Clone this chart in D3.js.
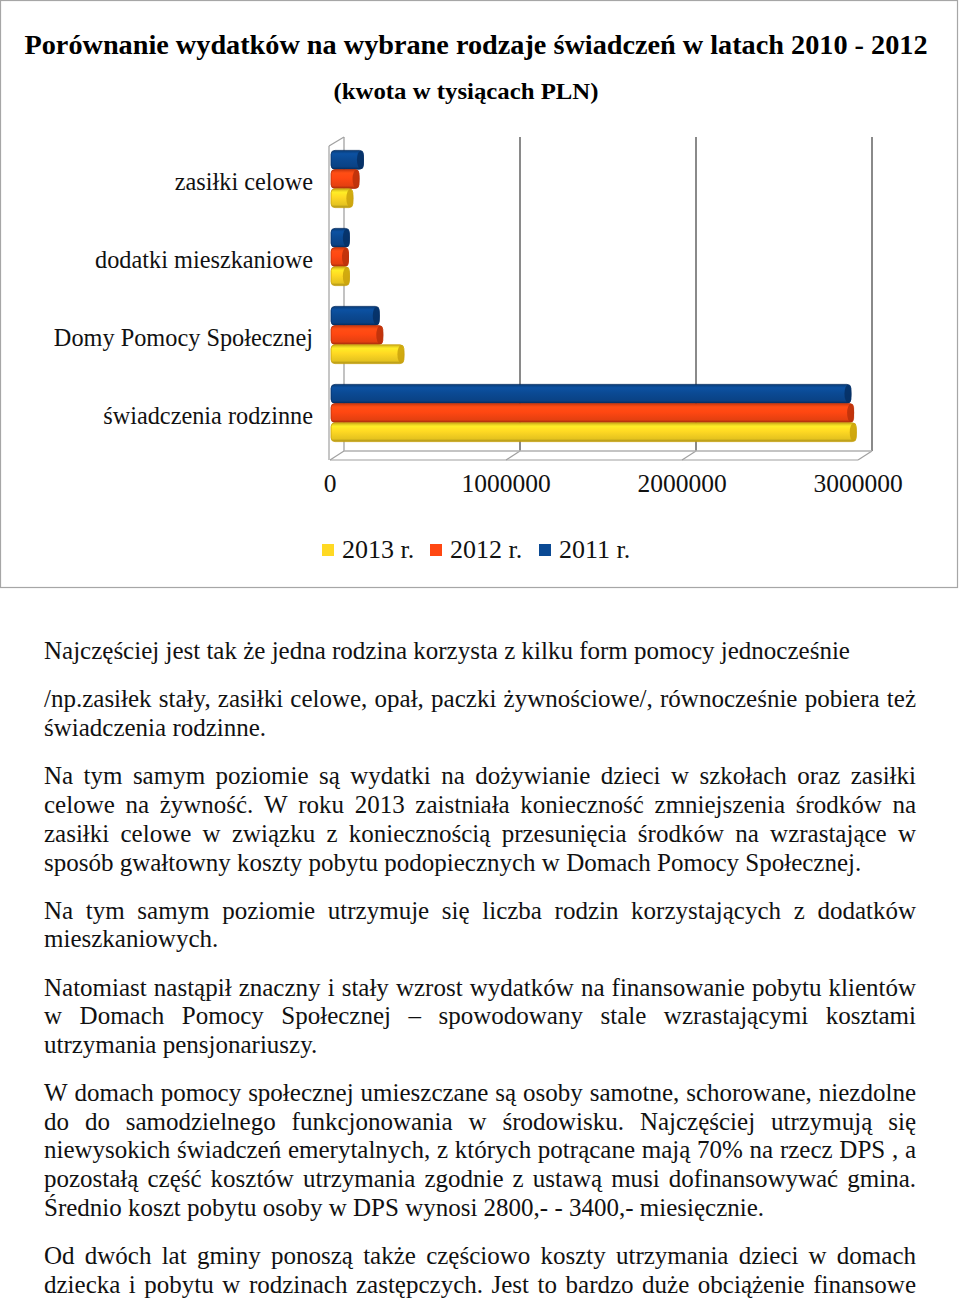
<!DOCTYPE html>
<html><head><meta charset="utf-8">
<script src="https://cdn.jsdelivr.net/npm/d3@7/dist/d3.min.js"></script>
<style>
body{margin:0;background:#fff;}
svg{display:block;font-family:"Liberation Serif","Times New Roman",serif;}
</style></head>
<body>
<svg id="c" width="960" height="1300"></svg>
<script>
const categories = ["zasiłki celowe", "dodatki mieszkaniowe", "Domy Pomocy Społecznej", "świadczenia rodzinne"];
const seriesNames = ["2011 r.", "2012 r.", "2013 r."];
const values2011 = [190000, 110000, 280000, 2960000];
const values2012 = [165000, 105000, 300000, 2975000];
const values2013 = [130000, 110000, 420000, 2990000];
const legendOrder = ["2013 r.", "2012 r.", "2011 r."];
const tickValues = [0, 1000000, 2000000, 3000000];
const colors = {"2011 r.": "#0b4a94", "2012 r.": "#ff4712", "2013 r.": "#ffd923"};
const darkColors = {"2011 r.": "#062f63", "2012 r.": "#b8300a", "2013 r.": "#c9a10c"};
const title = "Porównanie wydatków na wybrane rodzaje świadczeń w latach 2010 - 2012";
const subtitle = "(kwota w tysiącach PLN)";

const paragraphs = [
  {lines: ["Najczęściej jest tak że jedna rodzina korzysta z kilku form pomocy jednocześnie"], justify: [false]},
  {lines: ["/np.zasiłek stały, zasiłki celowe, opał, paczki żywnościowe/, równocześnie pobiera też",
           "świadczenia rodzinne."], justify: [true, false]},
  {lines: ["Na tym samym poziomie są wydatki na dożywianie dzieci w szkołach oraz zasiłki",
           "celowe na żywność. W roku 2013 zaistniała konieczność zmniejszenia środków na",
           "zasiłki celowe w związku z koniecznością przesunięcia środków na wzrastające w",
           "sposób gwałtowny koszty pobytu podopiecznych w Domach Pomocy Społecznej."], justify: [true, true, true, false]},
  {lines: ["Na tym samym poziomie utrzymuje się liczba rodzin korzystających z dodatków",
           "mieszkaniowych."], justify: [true, false]},
  {lines: ["Natomiast nastąpił znaczny i stały wzrost wydatków na finansowanie pobytu klientów",
           "w Domach Pomocy Społecznej – spowodowany stale wzrastającymi kosztami",
           "utrzymania pensjonariuszy."], justify: [true, true, false]},
  {lines: ["W domach pomocy społecznej umieszczane są osoby samotne, schorowane, niezdolne",
           "do do samodzielnego funkcjonowania w środowisku. Najczęściej utrzymują się",
           "niewysokich świadczeń emerytalnych, z których potrącane mają 70% na rzecz DPS , a",
           "pozostałą część kosztów utrzymania zgodnie z ustawą musi dofinansowywać gmina.",
           "Średnio koszt pobytu osoby w DPS wynosi 2800,- - 3400,- miesięcznie."], justify: [true, true, true, true, false]},
  {lines: ["Od dwóch lat gminy ponoszą także częściowo koszty utrzymania dzieci w domach",
           "dziecka i pobytu w rodzinach zastępczych. Jest to bardzo duże obciążenie finansowe"], justify: [true, true]}
];

const svg = d3.select("#c");
const valuesBySeries = {"2011 r.": values2011, "2012 r.": values2012, "2013 r.": values2013};

// chart frame
svg.append("rect").attr("x", 0.5).attr("y", 0.5).attr("width", 957).attr("height", 587)
  .attr("fill", "#fff").attr("stroke", "#a6a6a6").attr("stroke-width", 1.2);

svg.append("text").attr("x", 476).attr("y", 54).attr("text-anchor", "middle")
  .attr("font-weight", "bold").attr("font-size", 28).attr("textLength", 903)
  .attr("lengthAdjust", "spacingAndGlyphs").text(title);
svg.append("text").attr("x", 466).attr("y", 99).attr("text-anchor", "middle")
  .attr("font-weight", "bold").attr("font-size", 24).attr("textLength", 265)
  .attr("lengthAdjust", "spacingAndGlyphs").text(subtitle);

// scales
const x = d3.scaleLinear().domain([0, 3000000]).range([330, 858]);
const depthX = 14, depthY = -9;
const y = d3.scaleBand().domain(categories).range([140, 452]).paddingInner(0).paddingOuter(0);
const yInner = d3.scaleBand().domain(seriesNames).range([-29, 29]).padding(0.02);
const floorY = 460;
const topY = 146;

// walls
const g3d = svg.append("g");
g3d.selectAll("line.grid").data(tickValues).join("line")
  .attr("x1", d => x(d) + depthX).attr("x2", d => x(d) + depthX)
  .attr("y1", topY + depthY).attr("y2", floorY + depthY)
  .attr("stroke", d => d === 0 ? "#9a9a9a" : "#8a8a8a").attr("stroke-width", d => d === 0 ? 1.2 : 2);
g3d.selectAll("line.slant").data(tickValues).join("line")
  .attr("x1", d => x(d)).attr("x2", d => x(d) + depthX)
  .attr("y1", floorY).attr("y2", floorY + depthY)
  .attr("stroke", "#a0a0a0").attr("stroke-width", 1.2);
g3d.append("line").attr("x1", x(0)).attr("x2", x(3000000)).attr("y1", floorY).attr("y2", floorY)
  .attr("stroke", "#a0a0a0").attr("stroke-width", 1.2);
g3d.append("line").attr("x1", x(0) + depthX).attr("x2", x(3000000) + depthX).attr("y1", floorY + depthY).attr("y2", floorY + depthY)
  .attr("stroke", "#b0b0b0").attr("stroke-width", 1.5);
g3d.append("line").attr("x1", x(0) - 1).attr("x2", x(0) - 1).attr("y1", topY).attr("y2", floorY)
  .attr("stroke", "#a0a0a0").attr("stroke-width", 1.2);
g3d.append("line").attr("x1", x(0) - 1).attr("x2", x(0) + depthX).attr("y1", topY).attr("y2", topY + depthY)
  .attr("stroke", "#a0a0a0").attr("stroke-width", 1.2);

// gradients
const defs = svg.append("defs");
seriesNames.forEach((s, i) => {
  const gr = defs.append("linearGradient").attr("id", "g" + i).attr("x1", 0).attr("y1", 0).attr("x2", 0).attr("y2", 1);
  const c = d3.color(colors[s]);
  gr.append("stop").attr("offset", "0%").attr("stop-color", c.darker(0.6));
  gr.append("stop").attr("offset", "18%").attr("stop-color", c.brighter(0.25));
  gr.append("stop").attr("offset", "45%").attr("stop-color", c);
  gr.append("stop").attr("offset", "85%").attr("stop-color", c.darker(0.3));
  gr.append("stop").attr("offset", "100%").attr("stop-color", c.darker(1.2));
});

// bars
const barData = [];
categories.forEach((cat, ci) => {
  seriesNames.forEach((s, si) => barData.push({cat, s, si, v: valuesBySeries[s][ci]}));
});
const bars = svg.append("g").selectAll("g.bar").data(barData).join("g")
  .attr("transform", d => `translate(0,${y(d.cat) + y.bandwidth() / 2 + yInner(d.s)})`);
const bh = yInner.bandwidth();
bars.append("rect")
  .attr("x", x(0) + 1).attr("y", 0)
  .attr("width", d => Math.max(8, x(d.v) - x(0) - 1)).attr("height", bh)
  .attr("rx", 4).attr("ry", 4)
  .attr("fill", d => `url(#g${d.si})`)
  .attr("stroke", d => darkColors[d.s]).attr("stroke-width", 0.8);
bars.append("ellipse")
  .attr("cx", d => Math.max(x(0) + 9, x(d.v)) - 3).attr("cy", bh / 2)
  .attr("rx", 3.5).attr("ry", bh / 2 - 0.5)
  .attr("fill", d => darkColors[d.s]).attr("opacity", 0.85);

// category labels
svg.append("g").selectAll("text").data(categories).join("text")
  .attr("x", 313).attr("y", d => y(d) + y.bandwidth() / 2 + 11)
  .attr("text-anchor", "end").attr("font-size", 24.3).attr("fill", "#111").text(d => d);

// tick labels
svg.append("g").selectAll("text").data(tickValues).join("text")
  .attr("x", d => x(d)).attr("y", 492).attr("text-anchor", "middle")
  .attr("font-size", 25.5).attr("fill", "#111").text(d => d3.format("d")(d));

// legend
const legendX = [322, 430, 539];
const lg = svg.append("g").selectAll("g").data(legendOrder).join("g")
  .attr("transform", (d, i) => `translate(${legendX[i]},544)`);
lg.append("rect").attr("width", 12).attr("height", 12).attr("fill", d => colors[d]);
lg.append("text").attr("x", 20).attr("y", 14).attr("font-size", 26).attr("fill", "#111").text(d => d);

// body text
const bodyLeft = 44, bodyRight = 916, fs = 25;
const lineBaselines = [[659], [707, 736], [784, 813, 842, 871], [919, 947], [996, 1024, 1053], [1101, 1130, 1158, 1187, 1216], [1264, 1293]];
const body = svg.append("g").attr("font-size", fs).attr("fill", "#111");
paragraphs.forEach((p, pi) => {
  p.lines.forEach((line, li) => {
    const by = lineBaselines[pi][li];
    if (!p.justify[li]) {
      body.append("text").attr("x", bodyLeft).attr("y", by).text(line);
      return;
    }
    const words = line.split(" ");
    const nodes = words.map(w => body.append("text").attr("y", by).text(w));
    const widths = nodes.map(n => n.node().getComputedTextLength());
    const total = d3.sum(widths);
    const gap = (bodyRight - bodyLeft - total) / (words.length - 1);
    let cx = bodyLeft;
    nodes.forEach((n, i) => { n.attr("x", cx); cx += widths[i] + gap; });
  });
});
</script>
</body></html>
